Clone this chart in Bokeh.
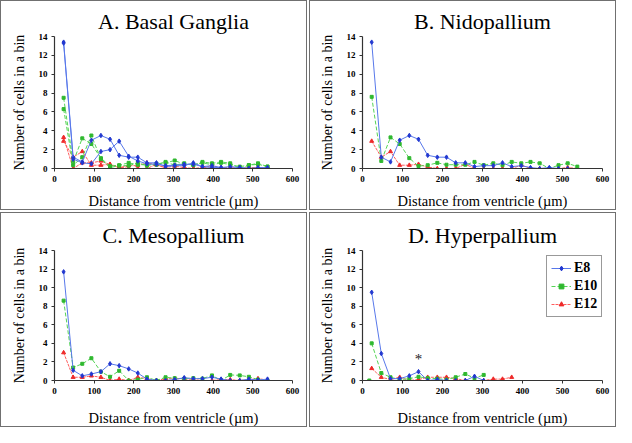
from bokeh.plotting import figure
from bokeh.layouts import gridplot
from bokeh.models import Range1d, FixedTicker, Legend, LegendItem
from bokeh.core.properties import value
from bokeh.embed import file_html
from bokeh.resources import INLINE

# ---------------- data ----------------
bins = [23, 47, 70, 93, 117, 140, 163, 187, 210, 233, 257, 280,
        303, 327, 350, 373, 397, 420, 443, 467, 490, 513, 537]
x_ticks = [0, 100, 200, 300, 400, 500, 600]
y_ticks = [0, 2, 4, 6, 8, 10, 12, 14]

# A. Basal Ganglia (two sets per age)
a_e8_1 = [13.4, 1.2, 0.7, 3.0, 3.5, 3.1, 1.4, 1.2, 1.2, 0.6, 0.6, 0.2, 0.3, 0.3, 0.6, 0.2, 0.3, 0.1, 0.0, 0.1, 0.0, 0.0]
a_e8_2 = [13.3, 1.0, 0.6, 0.5, 1.8, 2.0, 2.9, 1.3, 0.8, 0.5, 0.45, 0.3, 0.35, 0.45, 0.45, 0.2, 0.1, 0.1, 0.2, 0.1, 0.0, 0.1, 0.1]
a_e10_1 = [7.5, 0.7, 3.2, 2.6, 1.1, 0.25, 0.35, 0.6, 0.4, 0.4, 0.4, 0.7, 0.35, 0.55, 0.35, 0.7, 0.55, 0.7, 0.55, 0.0, 0.35, 0.55, 0.2]
a_e10_2 = [6.3, 0.35, 1.2, 3.5, 1.0, 0.1, 0.3, 0.3, 0.6, 0.3, 0.5, 0.6, 0.85, 0.45, 0.4, 0.6, 0.4, 0.6, 0.4, 0.2, 0.35, 0.45, 0.2]
a_e12_1 = [2.9, 1.2, 1.8, 0.35, 0.35, 0.45, 0.15, 0.0, 0.0, 0.0, 0.45, 0.0, 0.0, 0.0, 0.0, 0.0, 0.35, 0.0, 0.0, 0.0, 0.0, 0.1, 0.0]
a_e12_2 = [3.3, 0.0, 0.6, 0.6, 0.8, 0.4, 0.1, 0.3, 0.3, 0.6, 0.4, 0.1, 0.25, 0.1, 0.0, 0.1, 0.0, 0.1, 0.1, 0.0, 0.1, 0.1, 0.1]

# B. Nidopallium
b_e8 = [13.4, 1.2, 0.7, 3.0, 3.5, 3.1, 1.4, 1.2, 1.2, 0.6, 0.6, 0.2, 0.3, 0.3, 0.6, 0.2, 0.3, 0.1, 0.0, 0.1, 0.0, 0.0]
b_e10 = [7.6, 0.8, 3.3, 2.6, 1.1, 0.25, 0.35, 0.6, 0.4, 0.4, 0.4, 0.7, 0.35, 0.55, 0.35, 0.7, 0.55, 0.7, 0.55, 0.0, 0.35, 0.55, 0.2]
b_e12 = [2.9, 1.2, 1.8, 0.35, 0.35, 0.45, 0.15, 0.0, 0.0, 0.0, 0.45, 0.0, 0.0, 0.0, 0.0, 0.0, 0.35, 0.0, 0.0, 0.0, 0.0, 0.1, 0.0]

# C. Mesopallium
c_e8 = [11.7, 1.1, 0.5, 0.7, 0.95, 1.8, 1.6, 1.25, 0.8, 0.15, 0.0, 0.0, 0.1, 0.3, 0.2, 0.2, 0.35, 0.15, 0.0, 0.0, 0.15, 0.05, 0.15]
c_e10 = [8.6, 1.4, 1.8, 2.4, 0.95, 0.4, 1.05, 0.0, 0.1, 0.35, 0.0, 0.35, 0.25, 0.2, 0.25, 0.2, 0.55, 0.0, 0.6, 0.55, 0.4, 0.1, 0.0]
c_e12 = [3.0, 0.35, 0.35, 0.5, 0.35, 0.0, 0.15, 0.0, 0.35, 0.2, 0.0, 0.2, 0.2, 0.2, 0.1, 0.0, 0.0, 0.1, 0.1, 0.0, 0.1, 0.2, 0.05]

# D. Hyperpallium
d_e8 = [9.5, 2.9, 0.2, 0.2, 0.5, 0.95, 0.0, 0.1, 0.0, 0.0, 0.0, 0.45, 0.0]
d_e10 = [4.0, 0.8, 0.35, 0.1, 0.2, 0.4, 0.25, 0.2, 0.1, 0.35, 0.7, 0.25, 0.6]
d_e12 = [1.3, 0.35, 0.1, 0.35, 0.0, 0.1, 0.35, 0.35, 0.35, 0.2, 0.0, 0.0, 0.0, 0.15, 0.15, 0.35]
d_e10_extra_x = [17]
d_e10_extra_y = [0.0]
star_x = [140]
star_y = [2.3]

# ---------------- styling ----------------
SERIF = "Liberation Serif"
STY = {
    "E8": dict(line="#5878ea", dash="solid", marker="diamond", fill="#2238d0", size=4.5),
    "E10": dict(line="#55d455", dash="4 2", marker="square", fill="#2fb82f", size=3),
    "E12": dict(line="#ff5c5c", dash="3 1", marker="triangle", fill="#ee2a2a", size=4),
}


def add_series(p, key, ys):
    s = STY[key]
    xs = bins[:len(ys)]
    ln = p.line(xs, ys, line_color=s["line"], line_width=1, line_dash=s["dash"])
    mk = p.scatter(xs, ys, marker=s["marker"], size=s["size"],
                   fill_color=s["fill"], line_color=s["fill"])
    return [ln, mk]


def make_panel(title, w, h, lb, rb, tb, bb, xstand):
    p = figure(width=w, height=h, x_range=Range1d(0, 600), y_range=Range1d(0, 14),
               output_backend="svg", toolbar_location=None,
               min_border_left=lb, min_border_right=rb,
               min_border_top=tb, min_border_bottom=bb)
    p.title.text = title
    p.title.text_font = SERIF
    p.title.text_font_size = "22px"
    p.title.text_font_style = "normal"
    p.title.align = "center"
    p.title.text_color = "black"
    p.title.standoff = 5
    p.outline_line_color = None
    p.xgrid.visible = False
    p.ygrid.visible = False
    p.background_fill_color = "white"
    p.border_fill_color = "white"
    p.xaxis.ticker = FixedTicker(ticks=x_ticks)
    p.yaxis.ticker = FixedTicker(ticks=y_ticks)
    p.xaxis.axis_label = "Distance from ventricle (\u00b5m)"
    p.yaxis.axis_label = "Number of cells in a bin"
    for ax in (p.xaxis, p.yaxis):
        ax.axis_line_color = "#333333"
        ax.axis_line_width = 1.2
        ax.major_tick_line_color = "#333333"
        ax.major_tick_out = 3
        ax.major_tick_in = 0
        ax.minor_tick_line_color = None
        ax.major_label_text_font = SERIF
        ax.major_label_text_font_style = "bold"
        ax.major_label_text_font_size = "9px"
        ax.major_label_text_color = "black"
        ax.axis_label_text_font = SERIF
        ax.axis_label_text_font_style = "normal"
        ax.axis_label_text_color = "black"
    p.xaxis.axis_label_text_font_size = "14.5px"
    p.yaxis.axis_label_text_font_size = "14px"
    p.xaxis.major_label_standoff = 4
    p.yaxis.major_label_standoff = 4
    p.xaxis.axis_label_standoff = xstand
    p.yaxis.axis_label_standoff = 9
    p.styles = {"border": "1.5px solid #707070", "box-sizing": "border-box"}
    return p


pa = make_panel("A. Basal Ganglia", 307, 210, 49, 16, 35, 40, 8)
add_series(pa, "E12", a_e12_1)
add_series(pa, "E12", a_e12_2)
add_series(pa, "E10", a_e10_1)
add_series(pa, "E10", a_e10_2)
add_series(pa, "E8", a_e8_1)
add_series(pa, "E8", a_e8_2)

pb = make_panel("B. Nidopallium", 307, 210, 52, 15, 35, 40, 8)
add_series(pb, "E12", b_e12)
add_series(pb, "E10", b_e10)
add_series(pb, "E8", b_e8)

pc = make_panel("C. Mesopallium", 307, 215, 53, 14, 37, 45, 13)
add_series(pc, "E12", c_e12)
add_series(pc, "E10", c_e10)
add_series(pc, "E8", c_e8)

pd_ = make_panel("D. Hyperpallium", 307, 215, 50, 15, 37, 45, 13)
r12 = add_series(pd_, "E12", d_e12)
r10 = add_series(pd_, "E10", d_e10)
r8 = add_series(pd_, "E8", d_e8)
pd_.scatter(d_e10_extra_x, d_e10_extra_y, marker="square", size=3,
            fill_color=STY["E10"]["fill"], line_color=STY["E10"]["fill"])
pd_.text(star_x, star_y, text=["*"], text_font=value(SERIF), text_font_size="15px",
         text_align="center", text_baseline="middle", text_color="#222222")

legend = Legend(items=[LegendItem(label="E8", renderers=r8),
                       LegendItem(label="E10", renderers=r10),
                       LegendItem(label="E12", renderers=r12)],
                location=(184, 63))
legend.label_text_font = SERIF
legend.label_text_font_style = "bold"
legend.label_text_font_size = "14px"
legend.label_text_color = "black"
legend.glyph_width = 20
legend.glyph_height = 12
legend.label_standoff = 3
legend.spacing = 2
legend.padding = 4
legend.margin = 0
legend.border_line_color = "#333333"
legend.border_line_width = 1.5
legend.background_fill_color = "white"
legend.background_fill_alpha = 1.0
pd_.add_layout(legend, "center")

grid = gridplot([[pa, pb], [pc, pd_]], toolbar_location=None)
grid.spacing = 2

open("out.html", "w").write(file_html(grid, INLINE))
